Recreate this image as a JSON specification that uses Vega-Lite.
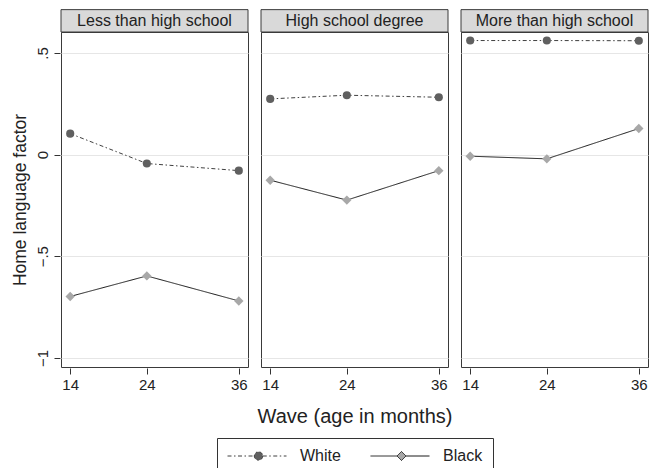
{
  "$schema": "https://vega.github.io/schema/vega-lite/v6.json",
  "padding": {"left": 10, "top": 8, "right": 0, "bottom": 0},
  "config": {
    "font": "Liberation Sans",
    "view": {"stroke": "#3a3a3a", "strokeWidth": 1}
  },
  "data": {
    "values": [
      {"edu": "Less than high school", "wave": 14, "race": "White", "value": 0.103},
      {"edu": "Less than high school", "wave": 24, "race": "White", "value": -0.044},
      {"edu": "Less than high school", "wave": 36, "race": "White", "value": -0.079},
      {"edu": "Less than high school", "wave": 14, "race": "Black", "value": -0.698},
      {"edu": "Less than high school", "wave": 24, "race": "Black", "value": -0.597},
      {"edu": "Less than high school", "wave": 36, "race": "Black", "value": -0.72},
      {"edu": "High school degree", "wave": 14, "race": "White", "value": 0.274},
      {"edu": "High school degree", "wave": 24, "race": "White", "value": 0.292},
      {"edu": "High school degree", "wave": 36, "race": "White", "value": 0.282},
      {"edu": "High school degree", "wave": 14, "race": "Black", "value": -0.126},
      {"edu": "High school degree", "wave": 24, "race": "Black", "value": -0.224},
      {"edu": "High school degree", "wave": 36, "race": "Black", "value": -0.079},
      {"edu": "More than high school", "wave": 14, "race": "White", "value": 0.561},
      {"edu": "More than high school", "wave": 24, "race": "White", "value": 0.561},
      {"edu": "More than high school", "wave": 36, "race": "White", "value": 0.56},
      {"edu": "More than high school", "wave": 14, "race": "Black", "value": -0.008},
      {"edu": "More than high school", "wave": 24, "race": "Black", "value": -0.021},
      {"edu": "More than high school", "wave": 36, "race": "Black", "value": 0.128}
    ]
  },
  "facet": {
    "column": {
      "field": "edu",
      "type": "nominal",
      "sort": ["Less than high school", "High school degree", "More than high school"],
      "header": {
        "labels": false,
        "title": "Wave (age in months)",
        "titleOrient": "bottom",
        "titleFontSize": 20,
        "titleFontWeight": "normal",
        "titleColor": "#222",
        "titlePadding": 5
      }
    }
  },
  "spacing": 11,
  "spec": {
    "width": 187,
    "height": 335,
    "encoding": {
      "x": {
        "field": "wave",
        "type": "quantitative",
        "title": null,
        "scale": {"domain": [12.8, 37.2], "nice": false, "zero": false},
        "axis": {
          "values": [14, 24, 36],
          "grid": false,
          "domain": false,
          "tickSize": 6,
          "tickColor": "#333",
          "labelFontSize": 15,
          "labelPadding": 3,
          "labelColor": "#222"
        }
      },
      "y": {
        "field": "value",
        "type": "quantitative",
        "title": "Home language factor",
        "scale": {"domain": [-1.045, 0.603], "nice": false, "zero": false},
        "axis": {
          "values": [-1, -0.5, 0, 0.5],
          "labelExpr": "datum.value === -1 ? '−1' : datum.value === -0.5 ? '−.5' : datum.value === 0 ? '0' : '.5'",
          "labelAngle": -90,
          "labelAlign": "center",
          "labelBaseline": "bottom",
          "labelFontSize": 15,
          "labelPadding": 4,
          "labelColor": "#222",
          "tickSize": 6,
          "tickColor": "#333",
          "domain": false,
          "grid": true,
          "gridColor": "#e6e6e6",
          "titleFontSize": 17.5,
          "titleFontWeight": "normal",
          "titleColor": "#222",
          "titlePadding": 6
        }
      }
    },
    "layer": [
      {
        "transform": [{"filter": "datum.wave === 14 && datum.race === 'White'"}],
        "mark": {"type": "rect", "fill": "#d9d9d9", "stroke": "#3a3a3a", "strokeWidth": 1},
        "encoding": {
          "x": {"datum": 12.8, "type": "quantitative", "title": null, "scale": {"domain": [12.8, 37.2], "nice": false, "zero": false}},
          "x2": {"datum": 37.2},
          "y": {"datum": 0.713, "type": "quantitative", "title": "Home language factor", "scale": {"domain": [-1.045, 0.603], "nice": false, "zero": false}},
          "y2": {"datum": 0.603}
        }
      },
      {
        "transform": [{"filter": "datum.wave === 14 && datum.race === 'White'"}],
        "mark": {"type": "text", "fontSize": 16, "color": "#222", "baseline": "middle", "align": "center"},
        "encoding": {
          "x": {"datum": 25, "type": "quantitative", "title": null, "scale": {"domain": [12.8, 37.2], "nice": false, "zero": false}},
          "y": {"datum": 0.658, "type": "quantitative", "title": "Home language factor", "scale": {"domain": [-1.045, 0.603], "nice": false, "zero": false}},
          "text": {"field": "edu"}
        }
      },
      {
        "mark": {"type": "line", "strokeWidth": 1},
        "encoding": {
          "strokeDash": {
            "field": "race",
            "type": "nominal",
            "scale": {"domain": ["White", "Black"], "range": [[4, 2.5, 1.5, 2.5], [1, 0]]}
          },
          "stroke": {
            "field": "race",
            "type": "nominal",
            "scale": {"domain": ["White", "Black"], "range": ["#404040", "#1a1a1a"]},
            "legend": {
              "title": null,
              "orient": "none",
              "legendX": 156,
              "legendY": 406,
              "direction": "horizontal",
              "labelFontSize": 16,
              "labelColor": "#222",
              "labelOffset": 57,
              "columnPadding": 27,
              "padding": 10,
              "strokeColor": "#333",
              "symbolSize": 100,
              "encode": {
                "symbols": {
                  "update": {
                    "shape": {"signal": "datum.value === 'White' ? 'M-1.5,0L3.85,0M5.55,0L10.3,0M5.55,0L5.485,0.325L5.301,0.601L5.025,0.785L4.7,0.85L4.375,0.785L4.099,0.601L3.915,0.325L3.85,0L3.915,-0.325L4.099,-0.601L4.375,-0.785L4.7,-0.85L5.025,-0.785L5.301,-0.601L5.485,-0.325Z' : 'M-1.5,0L3.8,0M5.6,0L10.3,0M3.8,0L4.7,-0.9L5.6,0L4.7,0.9Z'"},
                    "size": {"value": 100},
                    "fill": {"signal": "datum.value === 'White' ? '#606060' : '#a8a8a8'"},
                    "fillOpacity": {"value": 1},
                    "stroke": {"signal": "datum.value === 'White' ? '#404040' : '#1a1a1a'"},
                    "strokeWidth": {"value": 1},
                    "strokeDash": {"signal": "datum.value === 'White' ? [4, 2.5, 1.5, 2.5] : [1, 0]"},
                    "opacity": {"value": 1}
                  }
                }
              }
            }
          }
        }
      },
      {
        "transform": [{"filter": "datum.race === 'White'"}],
        "mark": {"type": "point", "shape": "circle", "filled": true, "opacity": 1, "strokeWidth": 0, "size": 66, "fill": "#606060"}
      },
      {
        "transform": [{"filter": "datum.race === 'Black'"}],
        "mark": {"type": "point", "shape": "diamond", "filled": true, "opacity": 1, "strokeWidth": 0, "size": 88, "fill": "#a8a8a8"}
      }
    ]
  }
}
